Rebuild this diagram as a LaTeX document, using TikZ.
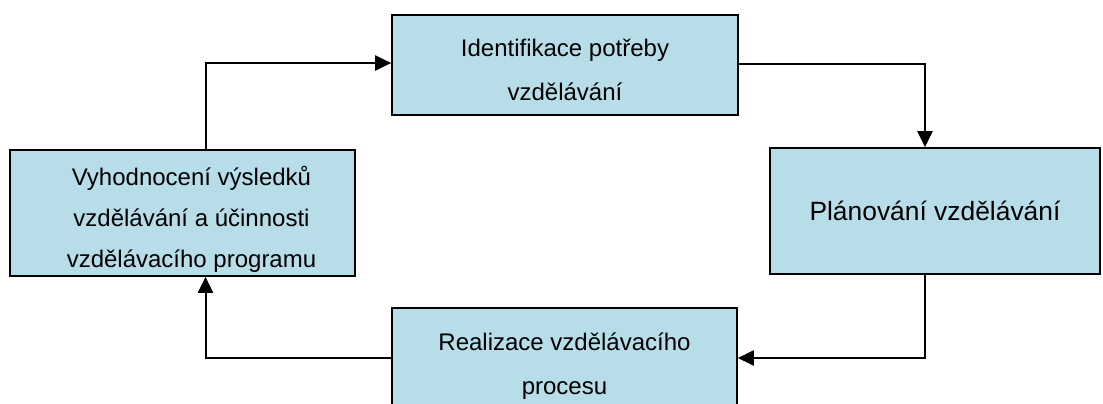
\documentclass[tikz,border=0pt]{standalone}
\usepackage{fontspec}
\setmainfont{Liberation Sans}
\usetikzlibrary{arrows.meta}
\definecolor{boxblue}{HTML}{B7DDE8}

\begin{document}
\begin{tikzpicture}[x=0.5pt,y=-0.5pt,
				box/.style = {rectangle,draw=black,fill=boxblue,line width=0.8pt,inner sep=0pt,align=center,font=\fontsize{12pt}{22pt}\selectfont},
				flow/.style = {-{Triangle[length=8pt,width=7.5pt]},line width=1pt}]
				
				\path[use as bounding box,clip] (0,0) rectangle (1103,403);
				
				\node[box,minimum width=173pt,minimum height=50pt] (ident) at (565,65) {\rule{0pt}{14pt}Identifikace potřeby\\vzdělávání};
				\node[box,minimum width=165pt,minimum height=63pt,font=\fontsize{13.2pt}{16pt}\selectfont] (plan) at (935,211) {Plánování vzdělávání};
				\node[box,minimum width=172.5pt,minimum height=50pt] (real) at (564.5,358) {\rule{0pt}{16.5pt}Realizace vzdělávacího\\procesu};
				\node[box,minimum width=172.5pt,minimum height=63pt,font=\fontsize{12pt}{20.5pt}\selectfont] (eval) at (182.5,213) {\rule{0pt}{15.5pt}\hspace*{9pt}Vyhodnocení výsledků\\\hspace*{9pt}vzdělávání a účinnosti\\\hspace*{9pt}vzdělávacího programu};
				
				\draw[flow] ([xshift=11.5pt]eval.north) |- ([yshift=1pt]ident.west);
				\draw[flow] ([yshift=0.5pt]ident.east) -| ([xshift=-5pt]plan.north);
				\draw[flow] ([xshift=-5pt]plan.south) |- (real.east);
				\draw[flow] (real.west) -| ([xshift=11.5pt]eval.south);
\end{tikzpicture}
\end{document}
